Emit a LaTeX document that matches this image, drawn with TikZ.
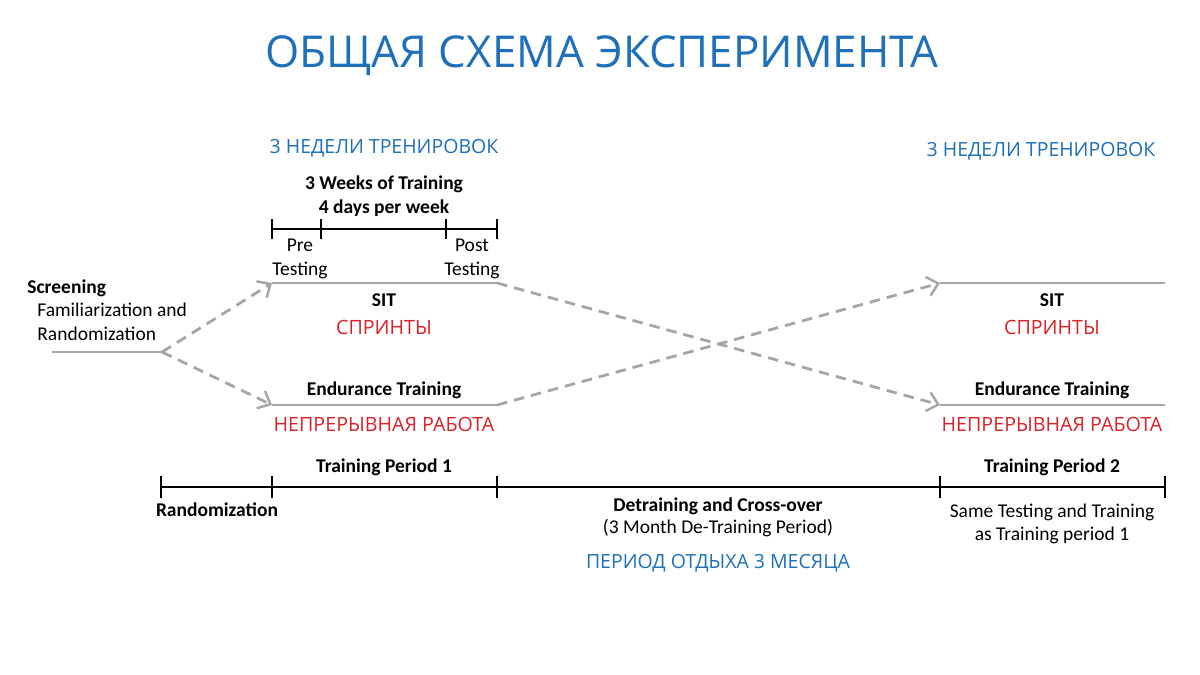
\documentclass[tikz,border=0pt]{standalone}
\usepackage{fontspec}
\setmainfont{Carlito}
\newfontfamily\ru{Open Sans}
\usetikzlibrary{arrows.meta}
\definecolor{ttblue}{HTML}{1F70B8}
\definecolor{ttred}{HTML}{D8232A}
\definecolor{ttgray}{HTML}{A6A6A6}
\tikzset{
  grayline/.style={draw=ttgray, line width=1.7pt},
  dasharrow/.style={draw=ttgray, line width=1.6pt, dash pattern=on 6pt off 4pt, -{Straight Barb[length=6pt,width=11pt,line width=1.4pt]}},
  axisline/.style={draw=black, line width=1.6pt},
  tick/.style={draw=black, line width=1.6pt},
  entxt/.style={font=\fontsize{11.1}{13.4}\selectfont, inner sep=0pt, align=center},
  enbold/.style={entxt, font=\fontsize{11.1}{13.4}\selectfont\bfseries},
  rublue/.style={text=ttblue, inner sep=0pt, font=\ru\fontsize{11.1}{13}\selectfont},
  rured/.style={text=ttred, inner sep=0pt, font=\ru\fontsize{11.2}{13}\selectfont},
}
\begin{document}
\begin{tikzpicture}[x=0.02cm,y=-0.02cm]
\useasboundingbox[fill=white] (0,0) rectangle (1200,675);
% title
\node[text=ttblue, inner sep=0pt, font=\ru\fontsize{25}{30}\selectfont] (title) at (602,56) {ОБЩАЯ СХЕМА ЭКСПЕРИМЕНТА};
\node[rublue] (w1) at (384,148) {3 НЕДЕЛИ ТРЕНИРОВОК};
\node[rublue] (w2) at (1041,151) {3 НЕДЕЛИ ТРЕНИРОВОК};
% top small timeline
\node[enbold] (wk) at (384,196) {3 Weeks of Training\\4 days per week};
\coordinate (t0) at (272,229);
\coordinate (t1) at (321,229);
\coordinate (t2) at (446,229);
\coordinate (t3) at (497,229);
\draw[axisline] (t0) -- (t3);
\foreach \c in {t0,t1,t2,t3} \draw[tick] ([yshift=-5.7pt]\c) -- ([yshift=5.7pt]\c);
\node[entxt] (pre) at (300,259) {Pre\\Testing};
\node[entxt] (post) at (472,259) {Post\\Testing};
% screening
\node[enbold, anchor=west] (scr) at (27,288) {Screening};
\node[entxt, anchor=west, align=left] (fam) at (37,322) {Familiarization and\\Randomization};
\coordinate (s0) at (52,352);
\coordinate (s1) at (162,352);
\draw[grayline] (s0) -- (s1);
% period 1 lines
\coordinate (a0) at (272,283);
\coordinate (a1) at (497,283);
\coordinate (b0) at (272,405);
\coordinate (b1) at (497,405);
\draw[grayline] (a0) -- (a1);
\draw[grayline] (b0) -- (b1);
% period 2 lines
\coordinate (c0) at (940,283);
\coordinate (c1) at (1165,283);
\coordinate (d0) at (940,405);
\coordinate (d1) at (1165,405);
\draw[grayline] (c0) -- (c1);
\draw[grayline] (d0) -- (d1);
% dashed arrows
\draw[dasharrow] (s1) -- (a0);
\draw[dasharrow] (s1) -- (b0);
\draw[dasharrow] (a1) -- (d0);
\draw[dasharrow] (b1) -- (c0);
% labels period 1
\node[enbold] (sit1) at (384,300) {SIT};
\node[rured] (spr1) at (384,327) {СПРИНТЫ};
\node[enbold] (end1) at (384,390) {Endurance Training};
\node[rured] (np1) at (384,424) {НЕПРЕРЫВНАЯ РАБОТА};
% labels period 2
\node[enbold] (sit2) at (1052,300) {SIT};
\node[rured] (spr2) at (1052,327) {СПРИНТЫ};
\node[enbold] (end2) at (1052,390) {Endurance Training};
\node[rured] (np2) at (1052,424) {НЕПРЕРЫВНАЯ РАБОТА};
% bottom timeline
\coordinate (m0) at (161,487);
\coordinate (m1) at (272,487);
\coordinate (m2) at (497,487);
\coordinate (m3) at (940,487);
\coordinate (m4) at (1165,487);
\draw[axisline] (m0) -- (m4);
\foreach \c in {m0,m1,m2,m3,m4} \draw[tick] ([yshift=-6.3pt]\c) -- ([yshift=6.3pt]\c);
\node[enbold] (tp1) at (384,467) {Training Period 1};
\node[enbold] (rnd) at (217,510) {Randomization};
\node[enbold] (tp2) at (1052,467) {Training Period 2};
\node[enbold] (det) at (718,506) {Detraining and Cross-over};
\node[entxt] (det2) at (718,528) {(3 Month De-Training Period)};
\node[rublue] (rest) at (718,563) {ПЕРИОД ОТДЫХА 3 МЕСЯЦА};
\node[entxt] (same) at (1052,524) {Same Testing and Training\\as Training period 1};
\end{tikzpicture}
\end{document}
